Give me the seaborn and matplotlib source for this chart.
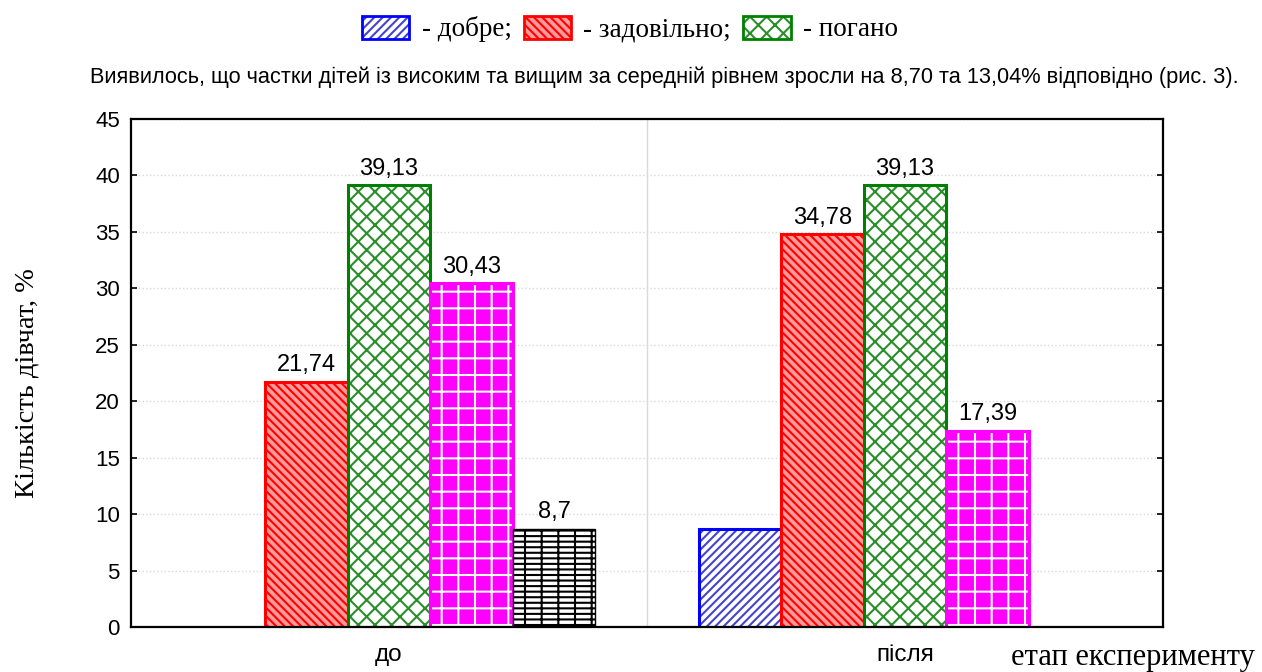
import pandas as pd
import matplotlib
matplotlib.use("Agg")
import matplotlib.pyplot as plt
import matplotlib.colors as mcolors
from matplotlib.patches import Patch
from matplotlib.ticker import FixedLocator
import seaborn as sns

# -------------------------------
# Data
# -------------------------------
stages = ["до", "після"]
levels = ["добре", "задовільно", "погано", "середнє", "низьке"]
values_before = [0, 21.74, 39.13, 30.43, 8.7]
values_after = [8.7, 34.78, 39.13, 17.39, 0]
legend_labels = ["- добре;", "- задовільно;", "- погано"]
# the reference leaves the "добре" bars unlabelled
labelled = {"добре": False, "задовільно": True, "погано": True, "середнє": True, "низьке": True}

rows = []
for stage, vals in zip(stages, [values_before, values_after]):
    for lvl, v in zip(levels, vals):
        rows.append({"stage": stage, "level": lvl, "value": v})
df = pd.DataFrame(rows)

# styles per level: face, edge, hatch, hatch colour
styles = {
    "добре": ("white", "#0000ff", "////", "#4444cc"),
    "задовільно": ("#ff9a9a", "#ff0000", "\\\\\\\\", "#ff0000"),
    "погано": ("white", "#008000", "xx", "#2a8f2a"),
    "середнє": ("#ff00ff", "#ff00ff", "+", "white"),
    "низьке": ("white", "black", "--+", "black"),
}

sns.set_style("white")
plt.rcParams["font.family"] = ["Liberation Sans", "DejaVu Sans"]
plt.rcParams["hatch.linewidth"] = 1.5
plt.rcParams["text.color"] = "black"
plt.rcParams["axes.labelcolor"] = "black"
plt.rcParams["xtick.color"] = "black"
plt.rcParams["ytick.color"] = "black"

fig = plt.figure(figsize=(12.62, 6.72), dpi=100)
ax = fig.add_axes([131 / 1262, 1 - 627 / 672, 1032 / 1262, 508 / 672])

sns.barplot(
    data=df,
    x="stage",
    y="value",
    hue="level",
    hue_order=levels,
    order=stages,
    width=0.8,
    ax=ax,
    legend=False,
)

for lvl, cont in zip(levels, ax.containers):
    face, edge, hatch, hcol = styles[lvl]
    for p in cont.patches:
        p.set_facecolor(face)
        p.set_edgecolor(edge)
        p.set_hatch(hatch)
        p.set_linewidth(2.2 if lvl != "низьке" else 1.0)
        p._hatch_color = mcolors.to_rgba(hcol)
        if p.get_height() == 0:
            p.set_visible(False)
    if labelled[lvl]:
        ax.bar_label(
            cont,
            labels=["" if v == 0 else f"{v:g}".replace(".", ",") for v in cont.datavalues],
            padding=4,
            fontsize=17,
            color="black",
        )

ax.set_ylim(0, 45)
ax.set_xlim(-0.5, 1.5)
ax.set_yticks(range(0, 46, 5))
ax.xaxis.set_minor_locator(FixedLocator([0.5]))
ax.grid(axis="y", which="major", color="#d9d9d9", linestyle=":", linewidth=1)
ax.grid(axis="x", which="minor", color="#d9d9d9", linestyle="-", linewidth=1)
ax.set_axisbelow(True)

for s in ax.spines.values():
    s.set_visible(True)
    s.set_color("black")
    s.set_linewidth(1.6)

ax.tick_params(axis="y", direction="in", length=4, width=1.2, left=True, right=True,
               labelsize=16, pad=8, colors="black")
ax.tick_params(axis="x", which="both", length=0, labelsize=17.5, pad=12, colors="black")
ax.set_xlabel("")
ax.set_ylabel("Кількість дівчат, %", family=["Liberation Serif"], fontsize=20.5, color="black")
ax.yaxis.set_label_coords(-0.089, 0.48)

fig.text(1255 / 1262, 1 - 657 / 672, "етап експерименту", family=["Liberation Serif"],
         fontsize=22, ha="right", va="center", color="black")

fig.text(664 / 1262, 1 - 77 / 672,
         "Виявилось, що частки дітей із високим та вищим за середній рівнем зросли на 8,70 та 13,04% відповідно (рис. 3).",
         fontsize=15.7, ha="center", va="center", color="black")

handles = []
for lvl in levels[:3]:
    face, edge, hatch, hcol = styles[lvl]
    h = Patch(facecolor=face, edgecolor=edge, hatch=hatch, linewidth=2)
    h._hatch_color = mcolors.to_rgba(hcol)
    handles.append(h)

leg = fig.legend(
    handles,
    legend_labels,
    loc="center",
    bbox_to_anchor=(630 / 1262, 1 - 29 / 672),
    ncol=3,
    frameon=False,
    prop={"family": "Liberation Serif", "size": 19.5},
    handlelength=1.75,
    handleheight=0.95,
    handletextpad=0.45,
    columnspacing=0.45,
)
for t in leg.get_texts():
    t.set_color("black")

plt.savefig("out.png", dpi=100)
